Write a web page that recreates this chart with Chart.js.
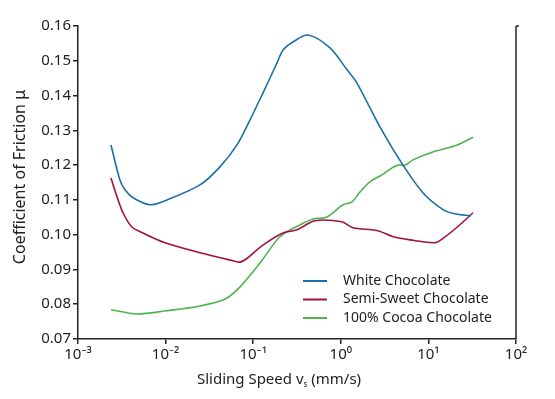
<!DOCTYPE html>
<html>
<head>
<meta charset="utf-8">
<script src="https://cdn.jsdelivr.net/npm/chart.js@4"></script>
<style>
	html, body { margin: 0; padding: 0; background: #fff; }
	#wrap { width: 555px; height: 399px; }
</style>
</head>
<body>
<div id="wrap"><canvas id="frictionChart" width="555" height="399"></canvas></div>
<script>
// Stribeck curves for three chocolates

const seriesNames = ['White Chocolate', 'Semi-Sweet Chocolate', '100% Cocoa Chocolate'];
const seriesColors = ['#1c6fa8', '#a3113f', '#4fb34f'];

const whiteSpeed = [0.00238, 0.00301, 0.00344, 0.00425, 0.00663, 0.0104, 0.0247, 0.0417, 0.0653, 0.092,
	0.129, 0.187, 0.219, 0.284, 0.423, 0.753, 1.18, 1.53, 2.80, 5.13, 8.7, 14.7, 20.0, 30.5];
const whiteMu = [0.1258, 0.1157, 0.1129, 0.1106, 0.1086, 0.1100, 0.1143, 0.1195, 0.1258, 0.1330,
	0.1407, 0.1494, 0.1531, 0.1554, 0.1574, 0.1537, 0.1474, 0.1436, 0.1310, 0.1200, 0.1120, 0.1072, 0.1060, 0.1054];

const semiSpeed = [0.00238, 0.00279, 0.00326, 0.00413, 0.00552, 0.00718, 0.0100, 0.0247, 0.0589, 0.0708, 0.083, 0.129,
	0.219, 0.316, 0.507, 1.03, 1.38, 2.59, 3.98, 6.17, 11.9, 14.8, 21.4, 32.4];
const semiMu = [0.1163, 0.1109, 0.1063, 0.1022, 0.1005, 0.0991, 0.0976, 0.0948, 0.0925, 0.0921, 0.0930, 0.0970,
	0.1005, 0.1014, 0.1040, 0.1037, 0.1020, 0.1012, 0.0994, 0.0985, 0.0977, 0.0990, 0.1022, 0.1063];

const cocoaSpeed = [0.00238, 0.00468, 0.0100, 0.0247, 0.0479, 0.0708, 0.120, 0.202, 0.342, 0.482,
	0.695, 1.06, 1.34, 1.66, 2.15, 2.95, 3.84, 4.50, 5.41, 6.67, 10.4, 21.4, 32.4];
const cocoaMu = [0.0784, 0.0772, 0.0781, 0.0795, 0.0815, 0.0850, 0.0919, 0.0994, 0.1028, 0.1045,
	0.1051, 0.1086, 0.1094, 0.1123, 0.1152, 0.1172, 0.1192, 0.1200, 0.1200, 0.1215, 0.1235, 0.1258, 0.1280];

const xTickValues = [0.001, 0.01, 0.1, 1, 10, 100];
const xTickLabels = ['10\u207B\u00B3', '10\u207B\u00B2', '10\u207B\u00B9', '10\u2070', '10\u00B9', '10\u00B2'];

const FONT = "'Noto Sans', 'DejaVu Sans', sans-serif";
const INK = '#222';

function toPoints(xs, ys) {
	return xs.map((x, i) => ({ x, y: ys[i] }));
}

// right-hand axis line, axis titles, inside legend
const decorPlugin = {
	id: 'decor',
	afterDraw(chart) {
		const { ctx, chartArea: a } = chart;
		ctx.save();
		ctx.strokeStyle = INK;
		ctx.lineWidth = 1.5;
		ctx.beginPath();
		ctx.moveTo(a.right, a.top);
		ctx.lineTo(a.right, a.bottom);
		ctx.moveTo(a.right, a.top);
		ctx.lineTo(a.right + 3, a.top);
		ctx.stroke();

		ctx.fillStyle = INK;

		// y title
		ctx.save();
		ctx.translate(20, a.top + 151);
		ctx.rotate(-Math.PI / 2);
		ctx.font = '16px ' + FONT;
		ctx.textAlign = 'center';
		ctx.textBaseline = 'middle';
		ctx.fillText('Coefficient of Friction \u03BC', 0, 0);
		ctx.restore();

		// x title with subscript s
		const cx = a.left + 201;
		const base = a.bottom + 45;
		ctx.textBaseline = 'alphabetic';
		ctx.textAlign = 'left';
		const p1 = 'Sliding Speed v';
		const p3 = ' (mm/s)';
		ctx.font = '15px ' + FONT;
		const w1 = ctx.measureText(p1).width;
		const w3 = ctx.measureText(p3).width;
		ctx.font = '8px ' + FONT;
		const w2 = ctx.measureText('s').width;
		let x = cx - (w1 + w2 + w3) / 2;
		ctx.font = '15px ' + FONT;
		ctx.fillText(p1, x, base);
		x += w1;
		ctx.font = '8px ' + FONT;
		ctx.fillText('s', x, base + 3);
		x += w2;
		ctx.font = '15px ' + FONT;
		ctx.fillText(p3, x, base);

		// legend
		ctx.font = '14px ' + FONT;
		ctx.textBaseline = 'middle';
		chart.data.datasets.forEach((ds, i) => {
			const y = a.top + 255 + i * 18.5;
			const lx = a.left + 225;
			ctx.strokeStyle = ds.borderColor;
			ctx.lineWidth = 2;
			ctx.beginPath();
			ctx.moveTo(lx, y);
			ctx.lineTo(lx + 24, y);
			ctx.stroke();
			ctx.fillStyle = INK;
			ctx.fillText(ds.label, lx + 40, y);
		});
		ctx.restore();
	}
};

const datasets = [
	toPoints(whiteSpeed, whiteMu),
	toPoints(semiSpeed, semiMu),
	toPoints(cocoaSpeed, cocoaMu)
].map((pts, i) => ({
	label: seriesNames[i],
	data: pts,
	borderColor: seriesColors[i],
	backgroundColor: seriesColors[i],
	borderWidth: 1.6,
	pointRadius: 0,
	showLine: true,
	fill: false,
	tension: 0.3
}));

new Chart(document.getElementById('frictionChart'), {
	type: 'scatter',
	data: { datasets },
	plugins: [decorPlugin],
	options: {
		responsive: false,
		animation: false,
		devicePixelRatio: 1,
		layout: { padding: { top: 26, right: 39, left: 0, bottom: 0 } },
		plugins: {
			legend: { display: false },
			tooltip: { enabled: false }
		},
		scales: {
			x: {
				type: 'logarithmic',
				min: 0.001,
				max: 100,
				afterBuildTicks(scale) {
					scale.ticks = xTickValues.map(v => ({ value: v }));
				},
				afterFit(scale) { scale.height = 60; },
				grid: { display: true, drawOnChartArea: false, drawTicks: true, tickLength: 5, color: INK, lineWidth: 1.5 },
				border: { display: true, color: INK, width: 1.5 },
				ticks: {
					color: INK,
					font: { family: FONT, size: 15 },
					padding: 2,
					maxRotation: 0,
					autoSkip: false,
					callback: (v, i) => xTickLabels[i]
				}
			},
			y: {
				min: 0.07,
				max: 0.16,
				afterFit(scale) { scale.width = 78; },
				grid: { display: true, drawOnChartArea: false, drawTicks: true, tickLength: 5, color: INK, lineWidth: 1.5 },
				border: { display: true, color: INK, width: 1.5 },
				ticks: {
					stepSize: 0.01,
					color: INK,
					font: { family: FONT, size: 15 },
					padding: 2,
					callback: v => v.toFixed(2)
				}
			}
		}
	}
});
</script>
</body>
</html>
